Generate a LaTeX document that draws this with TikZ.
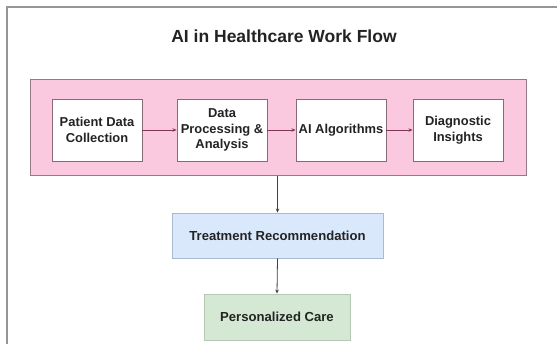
\documentclass[tikz,border=0pt]{standalone}
\usepackage{fontspec}
\setmainfont{Liberation Sans}
\usetikzlibrary{arrows.meta}
\definecolor{pinkfill}{RGB}{250,200,223}
\definecolor{pinkdraw}{RGB}{150,120,135}
\definecolor{boxdraw}{RGB}{135,105,120}
\definecolor{bluefill}{RGB}{218,232,252}
\definecolor{bluedraw}{RGB}{170,185,205}
\definecolor{greenfill}{RGB}{213,232,212}
\definecolor{greendraw}{RGB}{180,200,180}
\definecolor{inarrow}{RGB}{130,55,85}
\definecolor{txt}{RGB}{35,35,35}
\definecolor{framecol}{RGB}{150,150,150}
\tikzset{
  wbox/.style={draw=boxdraw, line width=0.9pt, fill=white, minimum width=90pt, minimum height=62pt, inner sep=1pt, align=center, font=\fontsize{12.9}{15.5}\selectfont\bfseries, text=txt},
  flat/.style={line width=0.9pt, minimum height=45pt, inner sep=1pt, align=center, font=\fontsize{13.1}{15.5}\selectfont\bfseries, text=txt},
  inconn/.style={draw=inarrow, line width=0.8pt, -{Stealth[length=4pt,width=3.5pt]}},
  outconn/.style={draw=black!75, line width=0.8pt, -{Stealth[length=4pt,width=3.5pt]}}
}
\begin{document}
\begin{tikzpicture}[x=1pt,y=-1pt]
\useasboundingbox (0,0) rectangle (557,344);
\fill[white] (0,0) rectangle (557,344);
\draw[framecol, line width=1.3pt] (7,344) -- (7,7) -- (557,7);
\node[font=\fontsize{17.5}{20}\selectfont\bfseries, text=txt] (title) at (284,36) {AI in Healthcare Work Flow};
\node[draw=pinkdraw, fill=pinkfill, line width=1pt, minimum width=496pt, minimum height=96pt, inner sep=0pt] (container) at (278,128) {};
\node[wbox] (p1) at (97,130) {Patient Data\\Collection};
\node[wbox] (p2) at (222,130) {Data\\Processing \&\\Analysis};
\node[wbox] (p3) at (341,130) {AI Algorithms};
\node[wbox] (p4) at (458,130) {Diagnostic\\Insights};
\node[flat, draw=bluedraw, fill=bluefill, minimum width=211pt] (treat) at (277.5,235.5) {Treatment Recommendation};
\node[flat, draw=greendraw, fill=greenfill, minimum width=146pt, minimum height=46pt] (care) at (277,317) {Personalized Care};
\draw[inconn] (p1) -- (p2);
\draw[inconn] (p2) -- (p3);
\draw[inconn] (p3) -- (p4);
\draw[outconn] (container.south -| treat.north) -- (treat.north);
\draw[outconn] (treat.south) -- (care.north);
\end{tikzpicture}
\end{document}
